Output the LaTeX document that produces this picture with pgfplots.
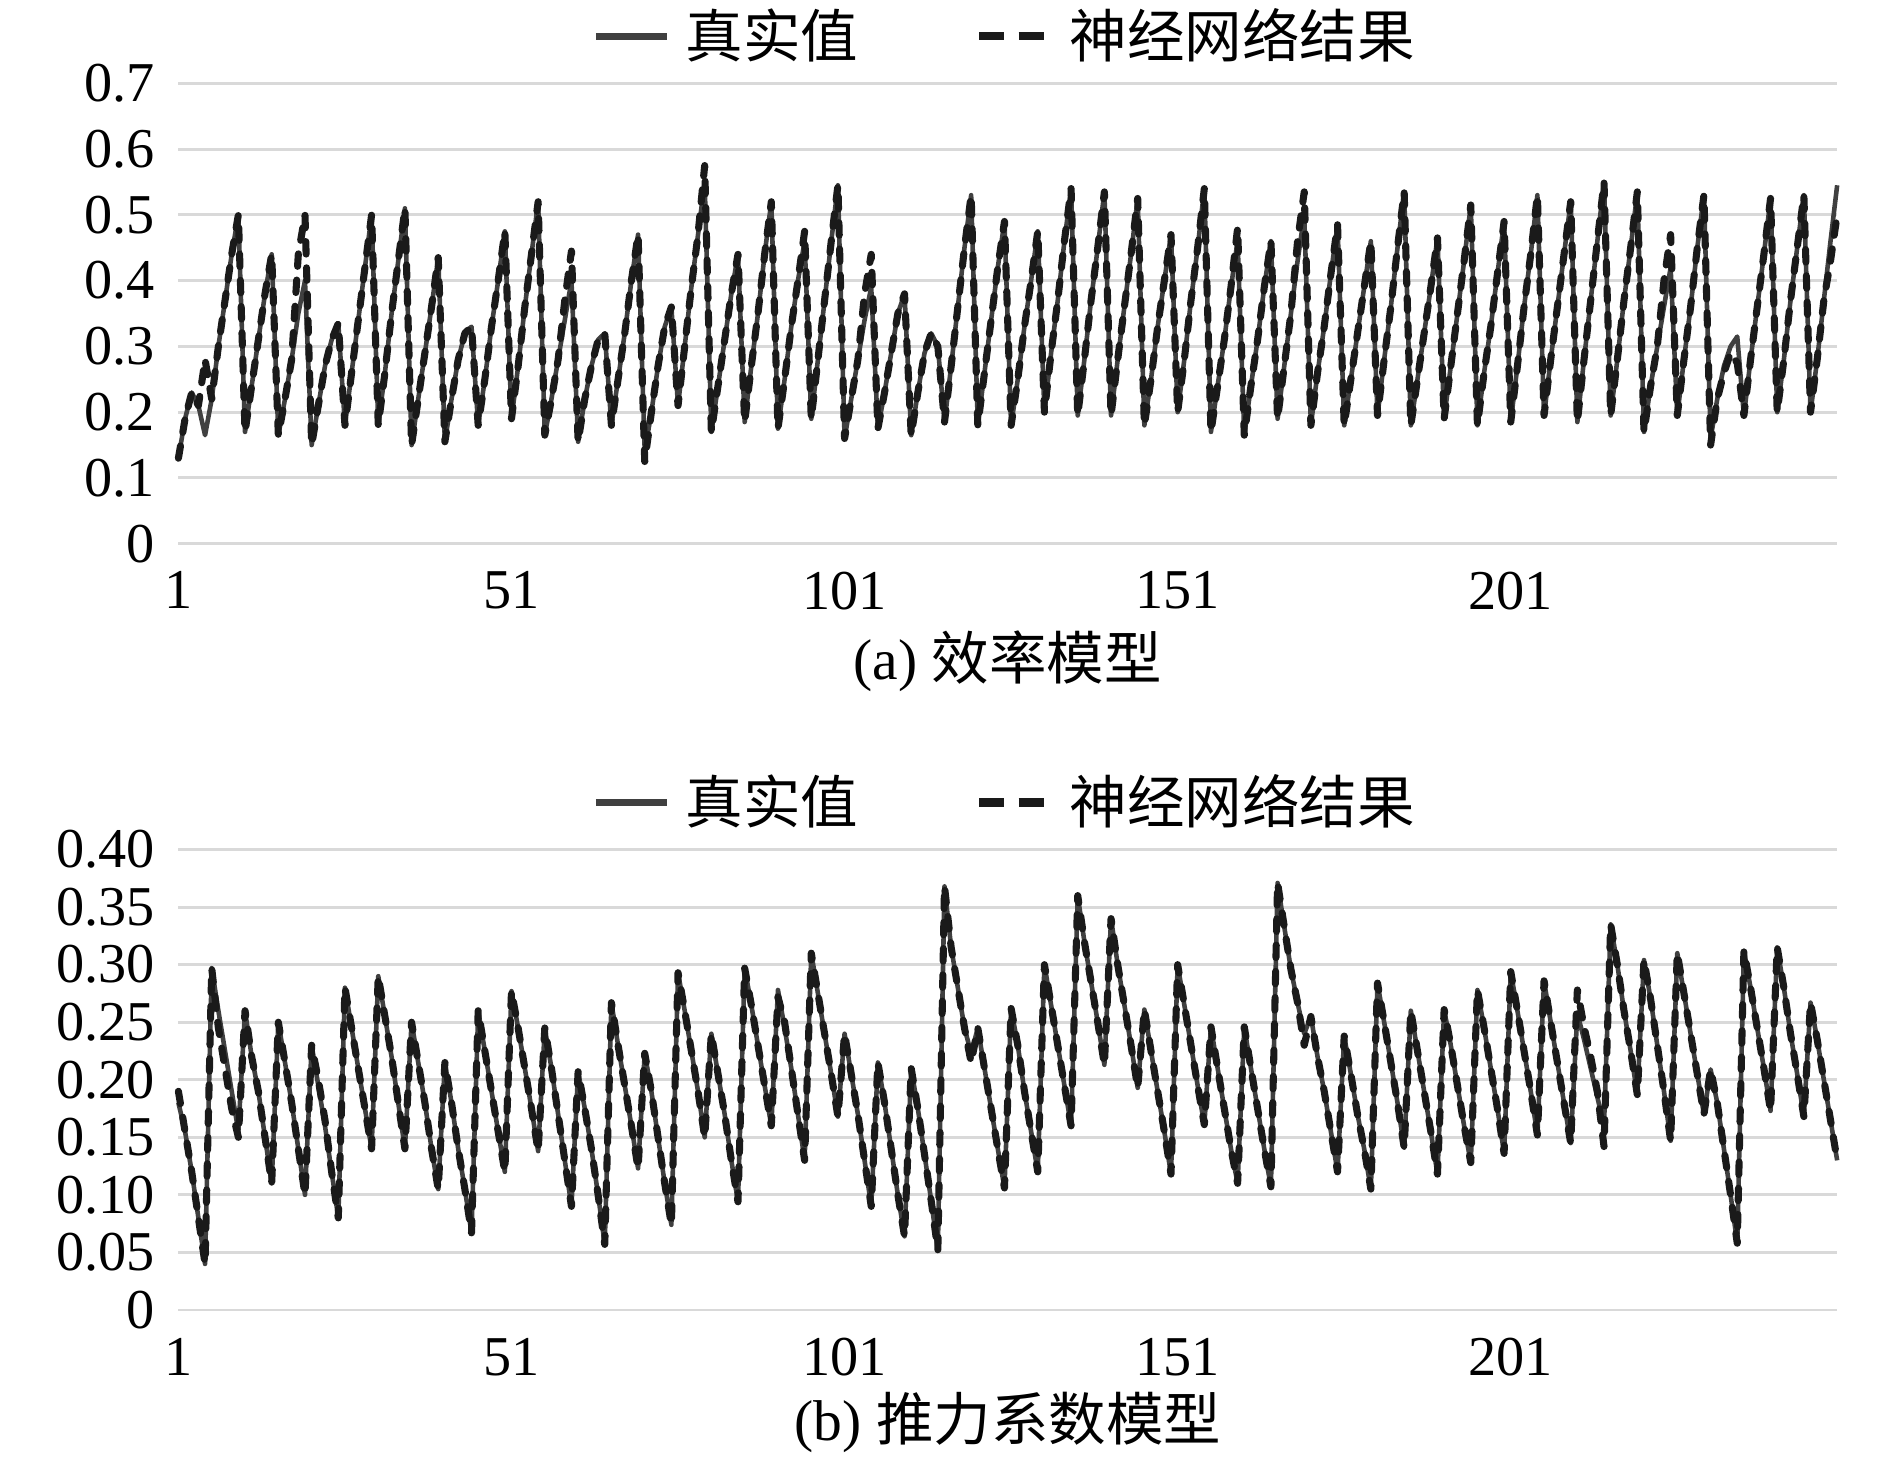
\documentclass[border=0pt]{standalone}
\usepackage{pgfplots}
\pgfplotsset{compat=1.18}
\usepackage{pgfplotstable}
\usepackage{fontspec}
\setmainfont{Liberation Serif}
\newfontfamily\cjk{Noto Sans CJK SC}

\definecolor{truecol}{HTML}{404040}
\definecolor{nncol}{HTML}{1A1A1A}
\definecolor{gridcol}{HTML}{D9D9D9}

% efficiency model: x, true, network
\pgfplotstableread{
x t p
1 0.13 0.13
2 0.19 0.19
3 0.23 0.23
4 0.21 0.21
5 0.165 0.28
6 0.22 0.22
7 0.30 0.30
8 0.37 0.37
9 0.44 0.44
10 0.50 0.50
11 0.17 0.17
12 0.24 0.24
13 0.31 0.31
14 0.38 0.38
15 0.44 0.44
16 0.165 0.165
17 0.22 0.22
18 0.28 0.28
19 0.35 0.44
20 0.40 0.50
21 0.15 0.15
22 0.21 0.21
23 0.27 0.27
24 0.31 0.31
25 0.335 0.335
26 0.18 0.18
27 0.26 0.26
28 0.34 0.34
29 0.42 0.42
30 0.50 0.50
31 0.18 0.18
32 0.26 0.26
33 0.35 0.35
34 0.43 0.43
35 0.51 0.51
36 0.15 0.15
37 0.22 0.22
38 0.29 0.29
39 0.36 0.36
40 0.435 0.435
41 0.155 0.155
42 0.22 0.22
43 0.28 0.28
44 0.32 0.32
45 0.33 0.33
46 0.18 0.18
47 0.25 0.25
48 0.33 0.33
49 0.40 0.40
50 0.475 0.475
51 0.19 0.19
52 0.27 0.27
53 0.36 0.36
54 0.44 0.44
55 0.52 0.52
56 0.165 0.165
57 0.22 0.22
58 0.28 0.28
59 0.34 0.37
60 0.40 0.445
61 0.155 0.155
62 0.22 0.22
63 0.27 0.27
64 0.31 0.31
65 0.32 0.32
66 0.18 0.18
67 0.25 0.25
68 0.32 0.32
69 0.40 0.40
70 0.47 0.47
71 0.14 0.125
72 0.20 0.20
73 0.27 0.27
74 0.33 0.33
75 0.36 0.36
76 0.21 0.21
77 0.30 0.30
78 0.39 0.39
79 0.47 0.47
80 0.55 0.575
81 0.17 0.17
82 0.24 0.24
83 0.31 0.31
84 0.38 0.38
85 0.44 0.44
86 0.185 0.185
87 0.27 0.27
88 0.35 0.35
89 0.44 0.44
90 0.52 0.52
91 0.175 0.175
92 0.25 0.25
93 0.33 0.33
94 0.40 0.40
95 0.46 0.475
96 0.19 0.19
97 0.28 0.28
98 0.37 0.37
99 0.46 0.46
100 0.545 0.545
101 0.16 0.16
102 0.22 0.22
103 0.28 0.28
104 0.34 0.38
105 0.39 0.44
106 0.175 0.175
107 0.23 0.23
108 0.29 0.29
109 0.35 0.35
110 0.38 0.38
111 0.165 0.165
112 0.23 0.23
113 0.29 0.29
114 0.32 0.32
115 0.30 0.30
116 0.185 0.185
117 0.27 0.27
118 0.36 0.36
119 0.45 0.45
120 0.53 0.53
121 0.18 0.18
122 0.26 0.26
123 0.34 0.34
124 0.42 0.42
125 0.49 0.49
126 0.18 0.18
127 0.25 0.25
128 0.33 0.33
129 0.40 0.40
130 0.475 0.475
131 0.20 0.20
132 0.29 0.29
133 0.37 0.37
134 0.46 0.46
135 0.54 0.54
136 0.195 0.195
137 0.28 0.28
138 0.37 0.37
139 0.45 0.45
140 0.535 0.535
141 0.195 0.195
142 0.28 0.28
143 0.36 0.36
144 0.44 0.44
145 0.525 0.525
146 0.18 0.18
147 0.25 0.25
148 0.33 0.33
149 0.40 0.40
150 0.47 0.47
151 0.20 0.20
152 0.28 0.28
153 0.37 0.37
154 0.45 0.45
155 0.54 0.54
156 0.17 0.17
157 0.24 0.24
158 0.31 0.31
159 0.39 0.39
160 0.46 0.48
161 0.165 0.165
162 0.24 0.24
163 0.31 0.31
164 0.39 0.39
165 0.46 0.46
166 0.19 0.19
167 0.27 0.27
168 0.35 0.35
169 0.43 0.46
170 0.50 0.535
171 0.18 0.18
172 0.26 0.26
173 0.33 0.33
174 0.41 0.41
175 0.485 0.485
176 0.18 0.18
177 0.25 0.25
178 0.32 0.32
179 0.39 0.39
180 0.46 0.46
181 0.195 0.195
182 0.28 0.28
183 0.36 0.36
184 0.45 0.45
185 0.535 0.535
186 0.18 0.18
187 0.25 0.25
188 0.32 0.32
189 0.39 0.39
190 0.465 0.465
191 0.19 0.19
192 0.27 0.27
193 0.35 0.35
194 0.43 0.43
195 0.515 0.515
196 0.18 0.18
197 0.26 0.26
198 0.33 0.33
199 0.41 0.41
200 0.49 0.49
201 0.185 0.185
202 0.27 0.27
203 0.36 0.36
204 0.44 0.44
205 0.53 0.53
206 0.195 0.195
207 0.28 0.28
208 0.36 0.36
209 0.44 0.44
210 0.52 0.52
211 0.185 0.185
212 0.28 0.28
213 0.37 0.37
214 0.46 0.46
215 0.55 0.55
216 0.195 0.195
217 0.28 0.28
218 0.37 0.37
219 0.45 0.45
220 0.535 0.535
221 0.17 0.17
222 0.24 0.24
223 0.30 0.30
224 0.36 0.40
225 0.42 0.47
226 0.195 0.195
227 0.28 0.28
228 0.36 0.36
229 0.45 0.45
230 0.53 0.53
231 0.16 0.15
232 0.22 0.22
233 0.27 0.26
234 0.30 0.29
235 0.315 0.275
236 0.195 0.195
237 0.28 0.28
238 0.36 0.36
239 0.44 0.44
240 0.525 0.525
241 0.20 0.20
242 0.28 0.28
243 0.37 0.37
244 0.45 0.45
245 0.53 0.53
246 0.20 0.20
247 0.28 0.28
248 0.37 0.37
249 0.46 0.43
250 0.545 0.50
}\effdata

% thrust coefficient model: x, true, network
\pgfplotstableread{
x t p
1 0.18 0.19
2 0.155 0.155
3 0.12 0.12
4 0.08 0.08
5 0.04 0.04
6 0.297 0.297
7 0.26 0.245
8 0.225 0.21
9 0.19 0.175
10 0.155 0.15
11 0.26 0.26
12 0.22 0.22
13 0.19 0.19
14 0.15 0.15
15 0.11 0.11
16 0.25 0.25
17 0.215 0.215
18 0.18 0.18
19 0.14 0.14
20 0.10 0.10
21 0.23 0.23
22 0.195 0.20
23 0.16 0.165
24 0.12 0.12
25 0.08 0.08
26 0.28 0.28
27 0.245 0.245
28 0.21 0.21
29 0.175 0.175
30 0.14 0.14
31 0.29 0.29
32 0.255 0.255
33 0.22 0.22
34 0.18 0.18
35 0.14 0.14
36 0.25 0.25
37 0.215 0.215
38 0.18 0.18
39 0.14 0.14
40 0.105 0.105
41 0.215 0.215
42 0.18 0.18
43 0.14 0.14
44 0.105 0.105
45 0.067 0.067
46 0.26 0.26
47 0.225 0.225
48 0.19 0.19
49 0.155 0.155
50 0.12 0.12
51 0.277 0.277
52 0.245 0.245
53 0.21 0.21
54 0.175 0.175
55 0.138 0.138
56 0.245 0.245
57 0.21 0.21
58 0.17 0.17
59 0.13 0.13
60 0.09 0.09
61 0.207 0.207
62 0.175 0.175
63 0.14 0.14
64 0.10 0.10
65 0.057 0.057
66 0.267 0.267
67 0.23 0.23
68 0.195 0.195
69 0.16 0.16
70 0.123 0.123
71 0.223 0.223
72 0.19 0.19
73 0.15 0.15
74 0.11 0.11
75 0.074 0.074
76 0.293 0.293
77 0.26 0.26
78 0.225 0.225
79 0.19 0.19
80 0.15 0.15
81 0.24 0.24
82 0.205 0.205
83 0.17 0.17
84 0.13 0.13
85 0.094 0.094
86 0.297 0.297
87 0.265 0.265
88 0.23 0.23
89 0.195 0.195
90 0.16 0.16
91 0.278 0.272
92 0.245 0.25
93 0.21 0.21
94 0.17 0.17
95 0.13 0.13
96 0.31 0.31
97 0.275 0.275
98 0.24 0.24
99 0.205 0.205
100 0.168 0.168
101 0.24 0.24
102 0.205 0.205
103 0.17 0.17
104 0.13 0.13
105 0.09 0.09
106 0.215 0.215
107 0.18 0.18
108 0.14 0.14
109 0.10 0.10
110 0.064 0.064
111 0.21 0.21
112 0.175 0.175
113 0.135 0.135
114 0.095 0.095
115 0.052 0.052
116 0.368 0.368
117 0.315 0.315
118 0.28 0.28
119 0.245 0.245
120 0.223 0.215
121 0.245 0.245
122 0.21 0.21
123 0.175 0.175
124 0.14 0.14
125 0.106 0.106
126 0.262 0.262
127 0.23 0.23
128 0.19 0.19
129 0.155 0.155
130 0.12 0.12
131 0.30 0.30
132 0.265 0.265
133 0.23 0.23
134 0.195 0.195
135 0.16 0.16
136 0.36 0.36
137 0.32 0.32
138 0.285 0.285
139 0.25 0.25
140 0.213 0.213
141 0.34 0.34
142 0.30 0.30
143 0.265 0.265
144 0.23 0.23
145 0.193 0.193
146 0.261 0.261
147 0.225 0.225
148 0.19 0.19
149 0.155 0.155
150 0.118 0.118
151 0.30 0.30
152 0.265 0.265
153 0.23 0.23
154 0.195 0.195
155 0.161 0.161
156 0.246 0.246
157 0.21 0.21
158 0.175 0.175
159 0.14 0.14
160 0.11 0.11
161 0.246 0.246
162 0.21 0.21
163 0.175 0.175
164 0.14 0.14
165 0.107 0.107
166 0.371 0.371
167 0.333 0.333
168 0.296 0.296
169 0.267 0.267
170 0.24 0.23
171 0.255 0.255
172 0.22 0.22
173 0.19 0.19
174 0.155 0.155
175 0.12 0.12
176 0.238 0.238
177 0.205 0.205
178 0.17 0.17
179 0.14 0.14
180 0.105 0.105
181 0.284 0.284
182 0.25 0.25
183 0.215 0.215
184 0.18 0.18
185 0.141 0.141
186 0.26 0.26
187 0.225 0.225
188 0.19 0.19
189 0.155 0.155
190 0.118 0.118
191 0.261 0.261
192 0.23 0.23
193 0.195 0.195
194 0.16 0.16
195 0.128 0.128
196 0.278 0.278
197 0.245 0.245
198 0.21 0.21
199 0.175 0.175
200 0.136 0.136
201 0.294 0.294
202 0.26 0.26
203 0.225 0.225
204 0.19 0.19
205 0.152 0.152
206 0.286 0.286
207 0.25 0.25
208 0.215 0.215
209 0.18 0.18
210 0.145 0.145
211 0.258 0.278
212 0.235 0.246
213 0.21 0.22
214 0.185 0.19
215 0.16 0.142
216 0.335 0.335
217 0.30 0.30
218 0.26 0.26
219 0.225 0.225
220 0.187 0.187
221 0.304 0.304
222 0.27 0.27
223 0.23 0.23
224 0.19 0.19
225 0.147 0.147
226 0.31 0.31
227 0.275 0.275
228 0.24 0.24
229 0.205 0.205
230 0.17 0.17
231 0.209 0.209
232 0.18 0.18
233 0.14 0.14
234 0.10 0.10
235 0.058 0.058
236 0.312 0.312
237 0.28 0.28
238 0.245 0.245
239 0.21 0.21
240 0.173 0.173
241 0.315 0.315
242 0.28 0.28
243 0.24 0.24
244 0.205 0.205
245 0.168 0.168
246 0.267 0.267
247 0.235 0.235
248 0.20 0.20
249 0.165 0.165
250 0.13 0.13
}\thrustdata

\pgfplotsset{
  sawaxis/.style={
    scale only axis, width=398.1pt, height=110.5pt,
    xmin=1, xmax=250, clip=false,
    axis line style={draw=none},
    major tick length=0pt,
    xtick={1,51,101,151,201},
    ymajorgrids, major grid style={gridcol, line width=0.7pt},
    tick label style={font=\fontsize{13.5}{15}\selectfont},
    /pgf/number format/assume math mode=true,
    yticklabel style={xshift=-2.1pt},
    xticklabel style={yshift=-3.2pt},
    legend columns=2,
    legend style={at={(0.5,1)}, anchor=center, yshift=11.3pt,
      draw=none, fill=none, font=\fontsize{13.8}{16}\selectfont\cjk,
      /tikz/every odd column/.append style={column sep=1.7pt},
      /tikz/every even column/.append style={column sep=26pt}},
  },
  truestyle/.style={truecol, line width=1.1pt, line join=round,
    legend image post style={line width=1.6pt}},
  nnstyle/.style={nncol, line width=1.7pt, dash pattern=on 3pt off 3.3pt,
    line cap=round, line join=round,
    legend image post style={line width=2pt, line cap=butt,
      dash pattern=on 6pt off 3.5pt}},
}

\begin{document}
\begin{tikzpicture}
\path[use as bounding box] (0,0) rectangle (453.6pt,350.4pt);

\begin{axis}[sawaxis, name=top, at={(42.82pt,219.9pt)}, anchor=south west,
  ymin=0, ymax=0.7,
  ytick={0,0.1,0.2,0.3,0.4,0.5,0.6,0.7},
  yticklabels={0,0.1,0.2,0.3,0.4,0.5,0.6,0.7},
]
\addplot[truestyle] table[x=x, y=t] {\effdata};
\addlegendentry{真实值}
\addplot[nnstyle] table[x=x, y=p] {\effdata};
\addlegendentry{神经网络结果}
\end{axis}
\node[font=\fontsize{13.8}{16}\selectfont, yshift=-28.1pt] at (top.south) {(a) {\cjk 效率模型}};

\begin{axis}[sawaxis, name=bottom, at={(42.82pt,36pt)}, anchor=south west,
  ymin=0, ymax=0.40,
  ytick={0,0.05,0.10,0.15,0.20,0.25,0.30,0.35,0.40},
  yticklabels={0,0.05,0.10,0.15,0.20,0.25,0.30,0.35,0.40},
]
\addplot[truestyle] table[x=x, y=t] {\thrustdata};
\addlegendentry{真实值}
\addplot[nnstyle] table[x=x, y=p] {\thrustdata};
\addlegendentry{神经网络结果}
\end{axis}
\node[font=\fontsize{13.8}{16}\selectfont, yshift=-27pt] at (bottom.south) {(b) {\cjk 推力系数模型}};
\end{tikzpicture}
\end{document}
